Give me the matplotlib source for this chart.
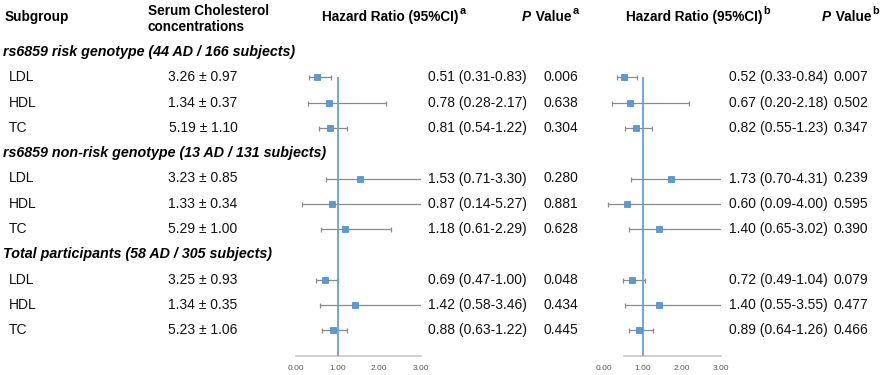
import matplotlib
matplotlib.use("Agg")
import matplotlib.pyplot as plt
import numpy as np

plt.rcParams['font.family'] = ['Liberation Sans', 'DejaVu Sans']

# ---------------- data ----------------
groups = ["rs6859 risk genotype (44 AD / 166 subjects)",
          "rs6859 non-risk genotype (13 AD / 131 subjects)",
          "Total participants (58 AD / 305 subjects)"]
subgroups = ["LDL", "HDL", "TC"]
conc = ["3.26 ± 0.97", "1.34 ± 0.37", "5.19 ± 1.10",
        "3.23 ± 0.85", "1.33 ± 0.34", "5.29 ± 1.00",
        "3.25 ± 0.93", "1.34 ± 0.35", "5.23 ± 1.06"]
hr_a = [0.51, 0.78, 0.81, 1.53, 0.87, 1.18, 0.69, 1.42, 0.88]
lo_a = [0.31, 0.28, 0.54, 0.71, 0.14, 0.61, 0.47, 0.58, 0.63]
hi_a = [0.83, 2.17, 1.22, 3.30, 5.27, 2.29, 1.00, 3.46, 1.22]
p_a = ["0.006", "0.638", "0.304", "0.280", "0.881", "0.628", "0.048", "0.434", "0.445"]
hr_b = [0.52, 0.67, 0.82, 1.73, 0.60, 1.40, 0.72, 1.40, 0.89]
lo_b = [0.33, 0.20, 0.55, 0.70, 0.09, 0.65, 0.49, 0.55, 0.64]
hi_b = [0.84, 2.18, 1.23, 4.31, 4.00, 3.02, 1.04, 3.55, 1.26]
p_b = ["0.007", "0.502", "0.347", "0.239", "0.595", "0.390", "0.079", "0.477", "0.466"]
xticks = [0, 1, 2, 3]
xticklabels = ["0.00", "1.00", "2.00", "3.00"]

# ---------------- layout ----------------
W, H = 886, 375
fig = plt.figure(figsize=(W / 100, H / 100), dpi=100)
ax = fig.add_axes([0, 0, 1, 1])
ax.set_xlim(0, W)
ax.set_ylim(H, 0)
ax.axis('off')

Y0, DY = 52.0, 25.3
def ypx(i):
    return Y0 + DY * i

rows_group = [0, 4, 8]
rows_item = [1, 2, 3, 5, 6, 7, 9, 10, 11]

FS = 10
HFS = 9.8
txtc = '#111111'

# header
ax.text(5, 17, "Subgroup", fontsize=HFS, fontweight='bold', va='center', ha='left')
ax.text(148, 11, "Serum Cholesterol", fontsize=HFS, fontweight='bold', va='center', ha='left')
ax.text(148, 27, "concentrations", fontsize=HFS, fontweight='bold', va='center', ha='left')

def sup_header(x, main, sup):
    t = ax.text(x, 17, main, fontsize=HFS, fontweight='bold', va='center', ha='left')
    ax.annotate(sup, xy=(1, 0.6), xycoords=t, xytext=(0.6, 0), textcoords='offset points',
                fontsize=7.8, fontweight='bold', va='bottom', ha='left')

def p_header(x, sup):
    t = ax.text(x, 17, "P", fontsize=HFS, fontweight='bold', fontstyle='italic', va='center', ha='left')
    t2 = ax.annotate(" Value", xy=(1, 0.5), xycoords=t, xytext=(0.3, 0), textcoords='offset points',
                     fontsize=HFS, fontweight='bold', va='center', ha='left')
    ax.annotate(sup, xy=(1, 0.6), xycoords=t2, xytext=(0.8, 0), textcoords='offset points',
                fontsize=7.8, fontweight='bold', va='bottom', ha='left')

sup_header(322, "Hazard Ratio (95%CI)", "a")
p_header(522, "a")
sup_header(626, "Hazard Ratio (95%CI)", "b")
p_header(822, "b")

for gi, r in enumerate(rows_group):
    ax.text(3, ypx(r), groups[gi], fontsize=10.3, fontweight='bold', fontstyle='italic',
            va='center', ha='left')

for k, r in enumerate(rows_item):
    y = ypx(r)
    ax.text(9, y, subgroups[k % 3], fontsize=FS, va='center', ha='left', color=txtc)
    ax.text(203, y, conc[k], fontsize=FS, va='center', ha='center', color=txtc)
    ax.text(428, y, f"{hr_a[k]:.2f} ({lo_a[k]:.2f}-{hi_a[k]:.2f})", fontsize=FS,
            va='center', ha='left', color=txtc)
    ax.text(544, y, p_a[k], fontsize=FS, va='center', ha='left', color=txtc)
    ax.text(729, y, f"{hr_b[k]:.2f} ({lo_b[k]:.2f}-{hi_b[k]:.2f})", fontsize=FS,
            va='center', ha='left', color=txtc)
    ax.text(834, y, p_b[k], fontsize=FS, va='center', ha='left', color=txtc)

# ---------------- forest axes ----------------
IDX_TOP, IDX_BOT = -0.5, 12.0
top_px, bot_px = ypx(IDX_TOP), ypx(IDX_BOT)

def forest(x0px, x3px, hr, lo, hi, line_start):
    fa = fig.add_axes([x0px / W, 1 - bot_px / H, (x3px - x0px) / W, (bot_px - top_px) / H])
    fa.set_xlim(0, 3)
    fa.set_ylim(IDX_BOT, IDX_TOP)
    fa.patch.set_alpha(0)
    for s in fa.spines.values():
        s.set_visible(False)
    hr = np.array(hr); lo = np.array(lo); hi = np.array(hi)
    ys = np.array(rows_item, dtype=float)
    fa.errorbar(hr, ys, xerr=[hr - lo, hi - hr], fmt='none', ecolor='#8a8a8a',
                elinewidth=0.9, capsize=1.8, capthick=0.9, zorder=2)
    fa.plot(hr, ys, 's', color='#5B9BD5', markeredgecolor='#4a88c7',
            markeredgewidth=0.5, markersize=5.0, zorder=4, linestyle='none')
    fa.plot([1, 1], [0.99, IDX_BOT], color='#6a9fd6', linewidth=1.3, zorder=3,
            solid_capstyle='butt')
    fa.plot([line_start, 3], [IDX_BOT, IDX_BOT], color='#c8c8c8', linewidth=1.2,
            clip_on=False, zorder=1)
    fa.set_yticks([])
    fa.set_xticks(xticks)
    fa.set_xticklabels(xticklabels, fontsize=6.0, color='#595959')
    fa.tick_params(axis='x', length=0, pad=6.5)
    return fa

forest(296, 421, hr_a, lo_a, hi_a, 0.0)
forest(604, 721, hr_b, lo_b, hi_b, 0.5)

fig.savefig("out.png", dpi=100)
